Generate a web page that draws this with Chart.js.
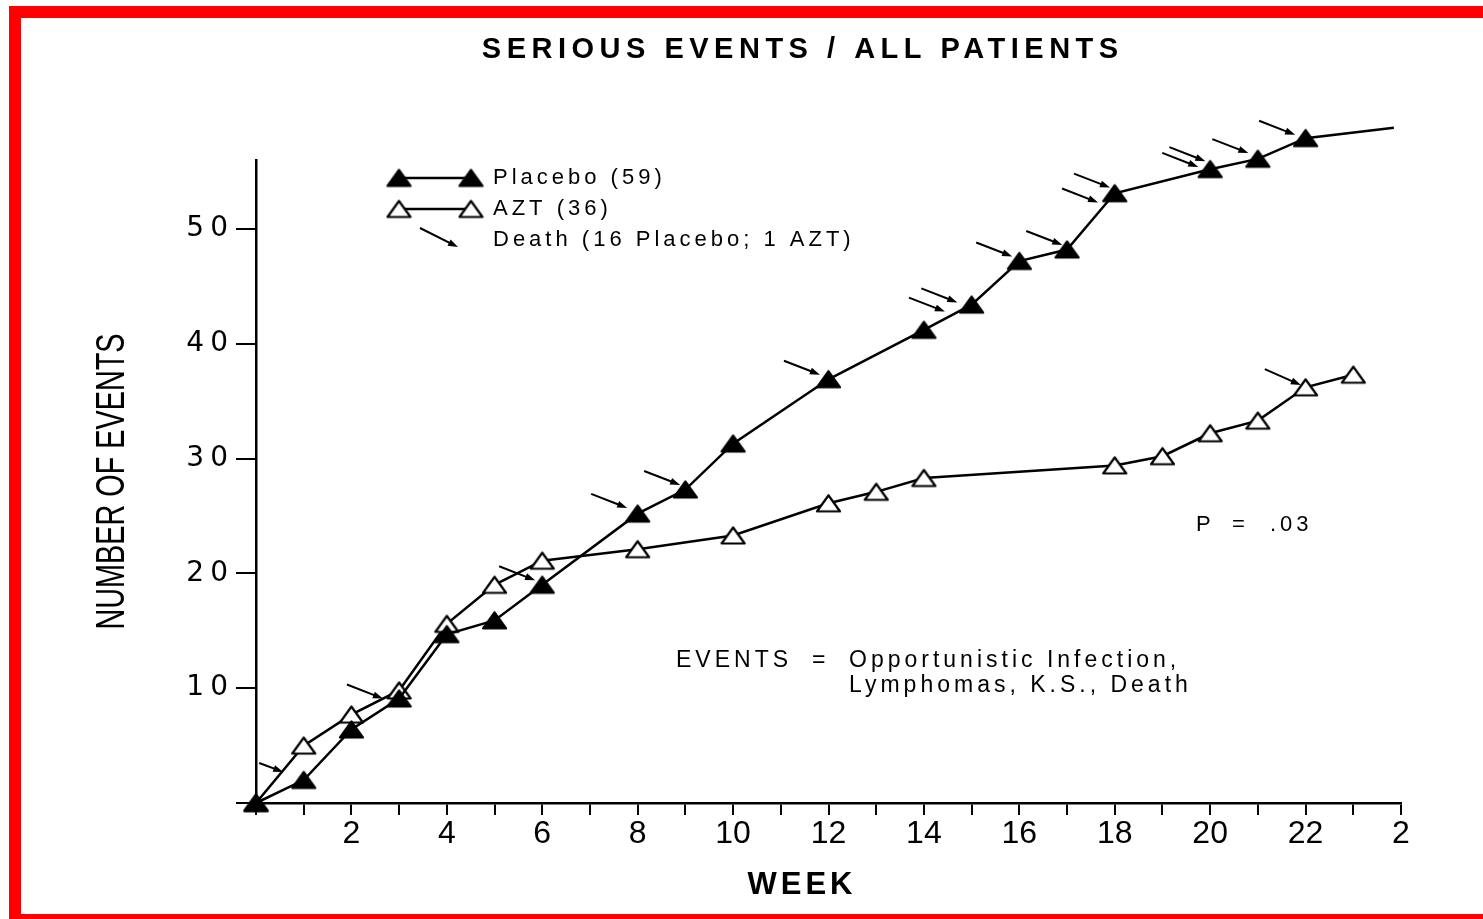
<!DOCTYPE html>
<html><head><meta charset="utf-8">
<script src="https://cdn.jsdelivr.net/npm/chart.js@4.4.1/dist/chart.umd.min.js"></script>
<style>
html,body{margin:0;padding:0;background:#fff;}
#wrap{position:relative;width:1483px;height:919px;overflow:hidden;background:#fff;}
canvas{position:absolute;left:0;top:0;}
.bar{position:absolute;background:#ff0000;}
</style></head><body>
<div id="wrap">
<canvas id="c" width="1483" height="919"></canvas>
<div class="bar" style="left:9px;top:6px;width:1474px;height:12px"></div>
<div class="bar" style="left:9px;top:6px;width:12px;height:913px"></div>
<div class="bar" style="left:9px;top:914px;width:1474px;height:5px"></div>
</div>
<script>
// ---- data ----
const chartTitle = 'SERIOUS EVENTS / ALL PATIENTS';
const xTitle = 'WEEK';
const yTitle = 'NUMBER OF EVENTS';

const placeboWeeks  = [0, 1, 2, 3, 4, 5, 6, 8, 9, 10, 12, 14, 15, 16, 17, 18, 20, 21, 22, 23.85];
const placeboEvents = [0, 2, 6.4, 9.1, 14.7, 15.9, 19, 25.2, 27.3, 31.3, 36.9, 41.2, 43.4, 47.2, 48.2, 53.1, 55.2, 56.1, 57.9, 58.8];

const aztWeeks  = [0, 1, 2, 3, 4, 5, 6, 8, 10, 12, 13, 14, 18, 19, 20, 21, 22, 23];
const aztEvents = [0, 5, 7.7, 9.8, 15.6, 19, 21.1, 22.1, 23.3, 26.1, 27.1, 28.3, 29.4, 30.2, 32.2, 33.3, 36.2, 37.3];

// death arrows (arrow tip location, in week / events)
const placeboDeathWeeks  = [0.57, 2.66, 5.85, 7.78, 8.89, 11.82, 14.44, 14.7, 15.85, 16.9, 17.65, 17.9, 19.75, 19.9, 20.8, 21.78];
const placeboDeathEvents = [2.7, 9.1, 19.4, 25.7, 27.7, 37.3, 42.8, 43.6, 47.6, 48.6, 52.3, 53.6, 55.4, 55.9, 56.6, 58.2];
const aztDeathWeeks  = [21.9];
const aztDeathEvents = [36.4];

const xTickValues = [0,1,2,3,4,5,6,7,8,9,10,11,12,13,14,15,16,17,18,19,20,21,22,23,24];
const xTickLabels = ['','','2','','4','','6','','8','','10','','12','','14','','16','','18','','20','','22','','2'];
const yTickValues = [0, 10, 20, 30, 40, 50];
const yTickLabels = ['', '10', '20', '30', '40', '50'];

const legendLabels = ['Placebo (59)', 'AZT (36)', 'Death (16 Placebo; 1 AZT)'];
const noteLines = ['EVENTS', '=', 'Opportunistic Infection,', 'Lymphomas, K.S., Death'];
const pLabel = ['P', '=', '.03'];

// ---- markers ----
function triCanvas(fill) {
  const c = document.createElement('canvas');
  c.width = 27; c.height = 21;
  const g = c.getContext('2d');
  g.beginPath();
  g.moveTo(13.5, 2.5); g.lineTo(25, 18.5); g.lineTo(2, 18.5); g.closePath();
  g.fillStyle = fill; g.fill();
  g.lineWidth = 2.2; g.lineJoin = 'round'; g.strokeStyle = '#000'; g.stroke();
  return c;
}
const filledTri = triCanvas('#000');
const openTri = triCanvas('#fff');

function drawArrow(ctx, tx, ty, dx, dy) {
  const sx = tx + dx, sy = ty + dy;
  const ang = Math.atan2(ty - sy, tx - sx);
  ctx.save();
  ctx.strokeStyle = '#000'; ctx.fillStyle = '#000'; ctx.lineWidth = 2;
  ctx.beginPath(); ctx.moveTo(sx, sy);
  ctx.lineTo(tx - 6 * Math.cos(ang), ty - 6 * Math.sin(ang)); ctx.stroke();
  ctx.beginPath();
  ctx.moveTo(tx, ty);
  ctx.lineTo(tx - 10 * Math.cos(ang) + 3.5 * Math.sin(ang), ty - 10 * Math.sin(ang) - 3.5 * Math.cos(ang));
  ctx.lineTo(tx - 10 * Math.cos(ang) - 3.5 * Math.sin(ang), ty - 10 * Math.sin(ang) + 3.5 * Math.cos(ang));
  ctx.closePath(); ctx.fill();
  ctx.restore();
}

const textTweaks = {
  id: 'textTweaks',
  afterLayout(chart) {
    const ctx = chart.ctx;
    const wrap = (obj, name, fn) => {
      if (!obj || obj['_w_' + name]) return;
      const orig = obj[name];
      obj[name] = function (...a) { ctx.save(); fn(ctx, this); orig.apply(this, a); ctx.restore(); };
      obj['_w_' + name] = true;
    };
    wrap(chart.titleBlock, 'draw', (c, b) => { c.letterSpacing = '5.5px'; c.translate(800 - (b.left + b.right) / 2 + 2.75, 0); });
    wrap(chart.scales.x, 'drawTitle', (c, s) => { c.letterSpacing = '4px'; c.translate(800 - (s.left + s.right) / 2 + 2, 0); });
    wrap(chart.scales.y, 'drawLabels', (c) => { c.letterSpacing = '6px'; });
    wrap(chart.scales.y, 'drawTitle', (c, s) => {
      const cy = (s.top + s.bottom) / 2, cx = 113;
      c.translate(cx, cy); c.scale(1, 0.72); c.translate(-cx, -cy);
    });
  }
};

const deathArrows = {
  id: 'deathArrows',
  afterDatasetsDraw(chart) {
    const ctx = chart.ctx, xs = chart.scales.x, ys = chart.scales.y;
    placeboDeathWeeks.forEach((w, i) => {
      const first = i === 0;
      drawArrow(ctx, xs.getPixelForValue(w), ys.getPixelForValue(placeboDeathEvents[i]), first ? -24 : -36, first ? -9 : -14);
    });
    aztDeathWeeks.forEach((w, i) => drawArrow(ctx, xs.getPixelForValue(w), ys.getPixelForValue(aztDeathEvents[i]), -36, -16));
  }
};

const annotations = {
  id: 'annotations',
  afterDraw(chart) {
    const ctx = chart.ctx;
    ctx.save();
    ctx.fillStyle = '#000'; ctx.strokeStyle = '#000';
    ctx.font = '22px "Liberation Sans", Arial, sans-serif';
    ctx.letterSpacing = '4px';
    ctx.textBaseline = 'middle'; ctx.textAlign = 'left';
    // legend
    ctx.lineWidth = 2.5;
    [[178, filledTri], [209, openTri]].forEach(([y, img]) => {
      ctx.beginPath(); ctx.moveTo(399, y); ctx.lineTo(471, y); ctx.stroke();
      ctx.drawImage(img, 399 - img.width / 2, y - img.height / 2);
      ctx.drawImage(img, 471 - img.width / 2, y - img.height / 2);
    });
    ctx.fillText(legendLabels[0], 493, 178);
    ctx.fillText(legendLabels[1], 493, 209);
    drawArrow(ctx, 458, 247, -38, -19);
    ctx.fillText(legendLabels[2], 493, 240);
    // events note
    ctx.font = '23px "Liberation Sans", Arial, sans-serif';
    ctx.letterSpacing = '4px';
    ctx.fillText(noteLines[0], 676, 661);
    ctx.fillText(noteLines[1], 812, 661);
    ctx.fillText(noteLines[2], 849, 661);
    ctx.fillText(noteLines[3], 849, 686);
    // p value
    ctx.font = '22px "Liberation Sans", Arial, sans-serif';
    ctx.fillText(pLabel[0], 1196, 525);
    ctx.fillText(pLabel[1], 1232, 525);
    ctx.fillText(pLabel[2], 1270, 525);
    ctx.restore();
  }
};

const toXY = (xs, ys) => xs.map((x, i) => ({ x: x, y: ys[i] }));

new Chart(document.getElementById('c'), {
  type: 'line',
  data: {
    datasets: [
      {
        label: 'Placebo (59)',
        data: toXY(placeboWeeks, placeboEvents),
        borderColor: '#000', borderWidth: 2.5, tension: 0, fill: false, clip: false,
        pointStyle: filledTri,
        pointRadius: (c) => c.dataIndex === placeboWeeks.length - 1 ? 0 : 30,
        pointHoverRadius: (c) => c.dataIndex === placeboWeeks.length - 1 ? 0 : 30
      },
      {
        label: 'AZT (36)',
        data: toXY(aztWeeks, aztEvents),
        borderColor: '#000', borderWidth: 2.5, tension: 0, fill: false, clip: false,
        pointStyle: openTri, pointRadius: 30, pointHoverRadius: 30
      }
    ]
  },
  options: {
    responsive: false, animation: false, devicePixelRatio: 1,
    events: [],
    layout: { padding: { left: 0, right: 82, top: 0, bottom: 0 } },
    plugins: {
      legend: { display: false },
      tooltip: { enabled: false },
      title: {
        display: true, text: chartTitle, color: '#000',
        font: { family: '"Liberation Sans", Arial, sans-serif', size: 29, weight: 'bold', lineHeight: 1.2 },
        padding: { top: 33, bottom: 92.2 }
      }
    },
    scales: {
      x: {
        type: 'linear', min: 0, max: 24,
        afterFit(s) { s.height = 116; },
        afterBuildTicks(s) { s.ticks = xTickValues.map(v => ({ value: v })); },
        ticks: {
          autoSkip: false, maxRotation: 0, color: '#000', padding: 0,
          callback: (v) => xTickLabels[xTickValues.indexOf(v)] ?? '',
          font: { family: '"Liberation Sans", Arial, sans-serif', size: 32 }
        },
        grid: { drawOnChartArea: false, drawTicks: true, tickLength: 12, color: '#000', lineWidth: 2 },
        border: { display: true, color: '#000', width: 2.5 },
        title: {
          display: true, text: xTitle, color: '#000',
          font: { family: '"Liberation Sans", Arial, sans-serif', size: 31, weight: 'bold', lineHeight: 1.2 },
          padding: { top: 0, bottom: 15 }
        }
      },
      y: {
        min: 0, max: 56,
        afterFit(s) { s.width = 256; },
        afterBuildTicks(s) { s.ticks = yTickValues.map(v => ({ value: v })); },
        ticks: {
          color: '#000', padding: 2,
          callback: (v) => yTickLabels[yTickValues.indexOf(v)] ?? '',
          font: { family: '"DejaVu Sans", sans-serif', size: 28 }
        },
        grid: { drawOnChartArea: false, drawTicks: true, tickLength: 20, color: '#000', lineWidth: 2 },
        border: { display: true, color: '#000', width: 2.5 },
        title: {
          display: true, text: yTitle, color: '#000',
          font: { family: '"Liberation Sans", Arial, sans-serif', size: 40, lineHeight: 1.2 },
          padding: { top: 89, bottom: 0 }
        }
      }
    }
  },
  plugins: [textTweaks, deathArrows, annotations]
});
</script>
</body></html>
